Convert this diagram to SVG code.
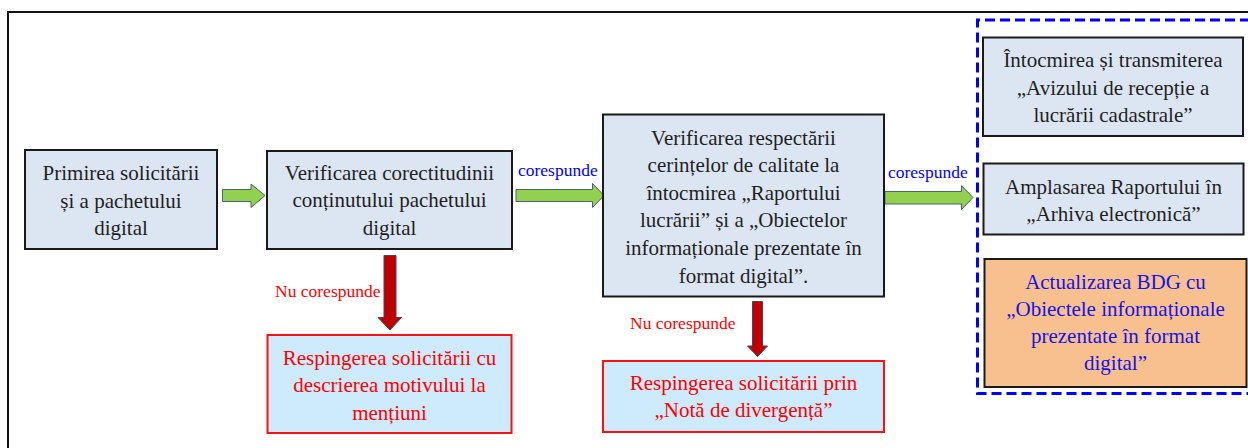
<svg xmlns="http://www.w3.org/2000/svg" width="1248" height="448" viewBox="0 0 1248 448">
  <style>
    .box { fill: #DCE6F2; stroke: #1a1a1a; stroke-width: 2; }
    .rej { fill: #CDEBFC; stroke: #FF1010; stroke-width: 2; }
    .upd { fill: #F9C08F; stroke: #1a1a1a; stroke-width: 2; }
    text { font-family: 'Liberation Serif', 'Times New Roman', Times, 'DejaVu Serif', serif; }
    .t { font-size: 21px; text-anchor: middle; fill: #1f1f1f; }
    .tr { fill: #FF0000; }
    .tb { fill: #1414E6; }
    .lbl { font-size: 17.5px; }
    .yes { fill: #0000FF; }
    .no { fill: #FF0000; }
    .garrow { fill: #92D050; stroke: #4A6572; stroke-width: 1; }
    .rarrow { fill: #C00000; stroke: #454560; stroke-width: 1; }
  </style>
  <rect x="0" y="0" width="1248" height="448" fill="#ffffff"/>
  <path d="M8,450 V12 H1250" fill="none" stroke="#111111" stroke-width="2"/>

  <g id="connectors" font-family="Liberation Serif, Times New Roman, serif">
    <path class="garrow" d="M222.5,189.5 H251 V184 L265,195.5 L251,207.5 V201.5 H222.5 Z"/>
    <path class="garrow" d="M516,189.5 H592.5 V183.5 L604,195.5 L592.5,207.5 V201.5 H516 Z"/>
    <path class="garrow" d="M885,191.5 H961.5 V185.5 L973,197.5 L961.5,209.5 V204 H885 Z"/>
    <path class="rarrow" d="M384,255.5 H396 V317.5 H401.5 L390,330 L378,317.5 H384 Z"/>
    <path class="rarrow" d="M752.5,301.5 H762.5 V346 H767.5 L757.5,356.5 L747.5,346 H752.5 Z"/>
    <text class="lbl yes" x="518" y="175.5">corespunde</text>
    <text class="lbl yes" x="888" y="178">corespunde</text>
    <text class="lbl no" x="275" y="297">Nu corespunde</text>
    <text class="lbl no" x="630" y="328.5">Nu corespunde</text>
  </g>

  <g id="n1">
    <rect class="box" x="25" y="150" width="192" height="99"/>
    <text class="t" x="121" y="180">Primirea solicitării</text>
    <text class="t" x="121" y="208">și a pachetului</text>
    <text class="t" x="121" y="235">digital</text>
  </g>
  <g id="n2">
    <rect class="box" x="267" y="151" width="245" height="98"/>
    <text class="t" x="389.5" y="179.5">Verificarea corectitudinii</text>
    <text class="t" x="389.5" y="207">conținutului pachetului</text>
    <text class="t" x="389.5" y="234.5">digital</text>
  </g>
  <g id="n3">
    <rect class="box" x="603" y="114.5" width="281" height="182"/>
    <text class="t" x="743.5" y="145">Verificarea respectării</text>
    <text class="t" x="743.5" y="172">cerințelor de calitate la</text>
    <text class="t" x="743.5" y="199.5">întocmirea „Raportului</text>
    <text class="t" x="743.5" y="227">lucrării” și a „Obiectelor</text>
    <text class="t" x="743.5" y="255">informaționale prezentate în</text>
    <text class="t" x="743.5" y="282.5">format digital”.</text>
  </g>
  <g id="r1">
    <rect class="rej" x="267.5" y="335" width="244" height="98"/>
    <text class="t tr" x="389.5" y="365">Respingerea solicitării cu</text>
    <text class="t tr" x="389.5" y="392">descrierea motivului la</text>
    <text class="t tr" x="389.5" y="420">mențiuni</text>
  </g>
  <g id="r2">
    <rect class="rej" x="603" y="361" width="281" height="71"/>
    <text class="t tr" x="743.5" y="390">Respingerea solicitării prin</text>
    <text class="t tr" x="743.5" y="417">„Notă de divergență”</text>
  </g>

  <g id="group">
    <path d="M1250,20 H977.5 V393.5 H1250" fill="none" stroke="#0000FF" stroke-width="3" stroke-dasharray="10 5"/>
  </g>
  <g id="a1">
    <rect class="box" x="983" y="37.5" width="260" height="98.5"/>
    <text class="t" x="1113" y="67">Întocmirea și transmiterea</text>
    <text class="t" x="1113" y="94.5">„Avizului de recepție a</text>
    <text class="t" x="1113" y="122">lucrării cadastrale”</text>
  </g>
  <g id="a2">
    <rect class="box" x="983.5" y="163.5" width="260" height="71"/>
    <text class="t" x="1113.5" y="193.5">Amplasarea Raportului în</text>
    <text class="t" x="1113.5" y="220.5">„Arhiva electronică”</text>
  </g>
  <g id="a3">
    <rect class="upd" x="984.5" y="259" width="262" height="128"/>
    <text class="t tb" x="1115.5" y="288.5">Actualizarea BDG cu</text>
    <text class="t tb" x="1115.5" y="315.5">„Obiectele informaționale</text>
    <text class="t tb" x="1115.5" y="343">prezentate în format</text>
    <text class="t tb" x="1115.5" y="370">digital”</text>
  </g>
</svg>
